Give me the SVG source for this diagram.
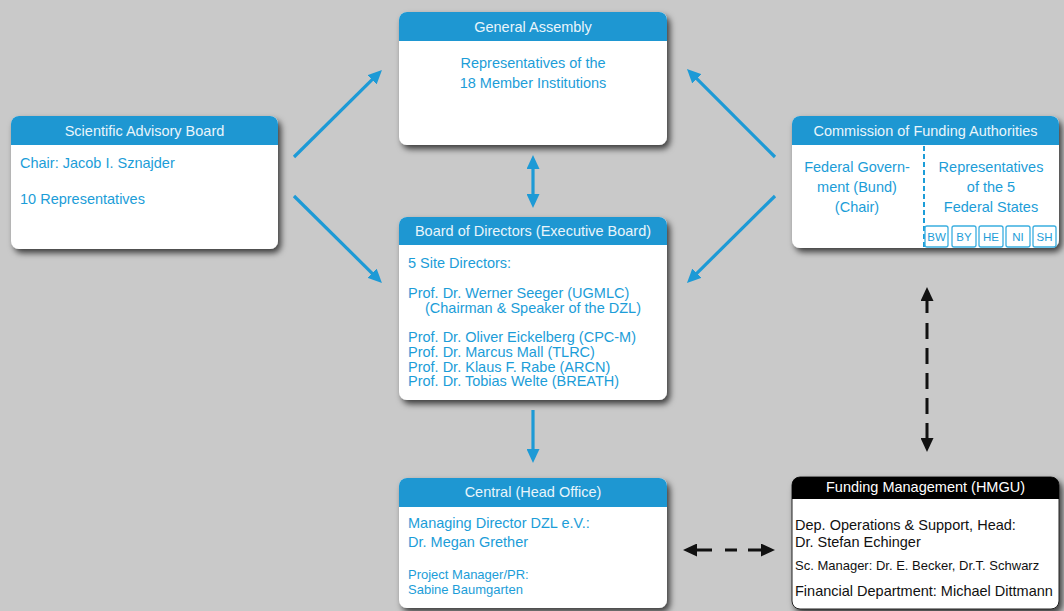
<svg xmlns="http://www.w3.org/2000/svg" width="1064" height="611" viewBox="0 0 1064 611">
<style>
text{font-family:"Liberation Sans",Arial,sans-serif;font-size:14.5px}
.hd{fill:#e9f5fb;text-anchor:middle}
.bd{fill:#1c9dd8}
.sm{font-size:13px}
.ctr{text-anchor:middle}
.blk{fill:#111}
.hfill{fill:#1e97d2}
.body{fill:#fff}
.blue{stroke:#1d9ad6;stroke-width:3.2;fill:none}
.dash{stroke:#111;stroke-width:3;fill:none}
.st{fill:#fff;stroke:#3aaee0;stroke-width:1.3}
.stt{font-size:11.5px;fill:#1c9dd8;text-anchor:middle}
</style>
<defs>
<filter id="sh" x="-10%" y="-10%" width="125%" height="130%">
<feDropShadow dx="3" dy="4" stdDeviation="3" flood-color="#000" flood-opacity="0.7"/>
</filter>
<marker id="ab" markerUnits="userSpaceOnUse" markerWidth="14" markerHeight="13" refX="8" refY="6.5" orient="auto-start-reverse" viewBox="0 0 14 13">
<path d="M0,0 L14,6.5 L0,13 Z" fill="#1d9ad6"/>
</marker>
<marker id="ak" markerUnits="userSpaceOnUse" markerWidth="14" markerHeight="13" refX="8" refY="6.5" orient="auto-start-reverse" viewBox="0 0 14 13">
<path d="M0,0 L14,6.5 L0,13 Z" fill="#111"/>
</marker>
</defs>
<rect width="1064" height="611" fill="#c9c9c9"/>

<g id="connectors">
<path class="blue" d="M294,157 L377.7,74.2" marker-end="url(#ab)"/>
<path class="blue" d="M294,196 L377.7,278.8" marker-end="url(#ab)"/>
<path class="blue" d="M775,157 L691.2,73.2" marker-end="url(#ab)"/>
<path class="blue" d="M775,196 L691.2,278.8" marker-end="url(#ab)"/>
<path class="blue" d="M533,161 L533,202" marker-start="url(#ab)" marker-end="url(#ab)"/>
<path class="blue" d="M533,410 L533,457" marker-end="url(#ab)"/>
<path class="dash" d="M927,293 L927,446" stroke-dasharray="20 10 16 9 16 9 16 9 16 9 23" marker-start="url(#ak)" marker-end="url(#ak)"/>
<path class="dash" d="M689,550 L769,550" stroke-dasharray="23 13 12 11 21" marker-start="url(#ak)" marker-end="url(#ak)"/>
</g>

<g id="sab">
<g filter="url(#sh)">
<rect class="body" x="11" y="116" width="267" height="133" rx="8"/>
</g>
<path class="hfill" d="M11,145 L11,124 A8,8 0 0 1 19,116 L270,116 A8,8 0 0 1 278,124 L278,145 Z"/>
<text class="hd" x="144.5" y="136">Scientific Advisory Board</text>
<text class="bd" x="20" y="168">Chair: Jacob I. Sznajder</text>
<text class="bd" x="20" y="204">10 Representatives</text>
</g>

<g id="ga">
<g filter="url(#sh)">
<rect class="body" x="399" y="12" width="268" height="133" rx="8"/>
</g>
<path class="hfill" d="M399,41 L399,20 A8,8 0 0 1 407,12 L659,12 A8,8 0 0 1 667,20 L667,41 Z"/>
<text class="hd" x="533" y="32">General Assembly</text>
<text class="bd ctr" x="533" y="68">Representatives of the</text>
<text class="bd ctr" x="533" y="88">18 Member Institutions</text>
</g>

<g id="cfa">
<g filter="url(#sh)">
<rect class="body" x="792" y="116" width="267" height="132" rx="8"/>
</g>
<path class="hfill" d="M792,145 L792,124 A8,8 0 0 1 800,116 L1051,116 A8,8 0 0 1 1059,124 L1059,145 Z"/>
<text class="hd" x="925.5" y="136">Commission of Funding Authorities</text>
<line x1="924" y1="146" x2="924" y2="248" stroke="#1c9dd8" stroke-width="2" stroke-dasharray="5 3"/>
<text class="bd ctr" x="857" y="172">Federal Govern-</text>
<text class="bd ctr" x="857" y="192">ment (Bund)</text>
<text class="bd ctr" x="857" y="212">(Chair)</text>
<text class="bd ctr" x="991" y="172">Representatives</text>
<text class="bd ctr" x="991" y="192">of the 5</text>
<text class="bd ctr" x="991" y="212">Federal States</text>
<rect class="st" x="925" y="226" width="23" height="21" rx="2"/>
<rect class="st" x="952" y="226" width="24" height="21" rx="2"/>
<rect class="st" x="979" y="226" width="24" height="21" rx="2"/>
<rect class="st" x="1006" y="226" width="24" height="21" rx="2"/>
<rect class="st" x="1033" y="226" width="23" height="21" rx="2"/>
<text class="stt" x="936.5" y="241">BW</text>
<text class="stt" x="964" y="241">BY</text>
<text class="stt" x="991" y="241">HE</text>
<text class="stt" x="1018" y="241">NI</text>
<text class="stt" x="1044.5" y="241">SH</text>
</g>

<g id="bod">
<g filter="url(#sh)">
<rect class="body" x="399" y="217" width="268" height="183" rx="8"/>
</g>
<path class="hfill" d="M399,245 L399,225 A8,8 0 0 1 407,217 L659,217 A8,8 0 0 1 667,225 L667,245 Z"/>
<text class="hd" x="533" y="236">Board of Directors (Executive Board)</text>
<text class="bd" x="408" y="268">5 Site Directors:</text>
<text class="bd" x="408" y="298">Prof. Dr. Werner Seeger (UGMLC)</text>
<text class="bd" x="425" y="313">(Chairman &amp; Speaker of the DZL)</text>
<text class="bd" x="408" y="342">Prof. Dr. Oliver Eickelberg (CPC-M)</text>
<text class="bd" x="408" y="357">Prof. Dr. Marcus Mall (TLRC)</text>
<text class="bd" x="408" y="372">Prof. Dr. Klaus F. Rabe (ARCN)</text>
<text class="bd" x="408" y="386">Prof. Dr. Tobias Welte (BREATH)</text>
</g>

<g id="central">
<g filter="url(#sh)">
<rect class="body" x="399" y="478" width="268" height="130" rx="8"/>
</g>
<path class="hfill" d="M399,507 L399,486 A8,8 0 0 1 407,478 L659,478 A8,8 0 0 1 667,486 L667,507 Z"/>
<text class="hd" x="533" y="497">Central (Head Office)</text>
<text class="bd" x="408" y="528">Managing Director DZL e.V.:</text>
<text class="bd" x="408" y="547">Dr. Megan Grether</text>
<text class="bd sm" x="408" y="579">Project Manager/PR:</text>
<text class="bd sm" x="408" y="594">Sabine Baumgarten</text>
</g>

<g id="funding">
<g filter="url(#sh)">
<rect x="792" y="477" width="267" height="132" rx="8" fill="#fff" stroke="#222" stroke-width="1"/>
</g>
<path fill="#000" d="M792,499 L792,485 A8,8 0 0 1 800,477 L1051,477 A8,8 0 0 1 1059,485 L1059,499 Z"/>
<text class="hd" x="925.5" y="492" style="fill:#fff">Funding Management (HMGU)</text>
<text class="blk" x="795" y="530">Dep. Operations &amp; Support, Head:</text>
<text class="blk" x="795" y="547">Dr. Stefan Echinger</text>
<text class="blk sm" x="795" y="570">Sc. Manager: Dr. E. Becker, Dr.T. Schwarz</text>
<text class="blk" x="795" y="596">Financial Department: Michael Dittmann</text>
</g>
</svg>
